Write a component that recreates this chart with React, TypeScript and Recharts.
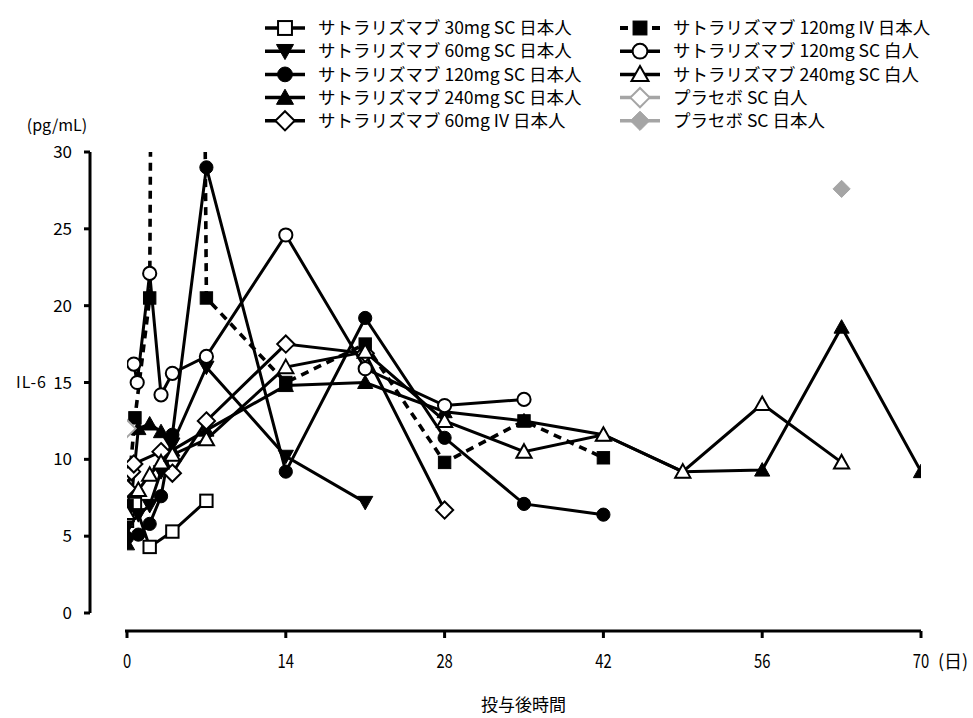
import React from 'react';
import { LineChart, Line, XAxis, YAxis, Legend, Label } from 'recharts';

const FONT = '"Noto Sans CJK JP", "Noto Sans", sans-serif';

const xTicks = [0, 14, 28, 42, 56, 70];
const yTicks = [0, 5, 10, 15, 20, 25, 30];

// IL-6 (pg/mL) by day after dosing
const days30ScJp = [0, 0.2, 0.7, 2, 4, 7];
const il6_30ScJp = [6.0, 7.2, 7.1, 4.3, 5.3, 7.3];

const days60ScJp = [0, 1, 2, 3, 4, 7, 14, 21];
const il6_60ScJp = [5.6, 6.4, 7.0, 9.2, 11.0, 16.0, 10.2, 7.2];

const days120ScJp = [0, 1, 2, 3, 4, 7, 14, 21, 28, 35, 42];
const il6_120ScJp = [4.9, 5.1, 5.8, 7.6, 11.6, 29.0, 9.2, 19.2, 11.4, 7.1, 6.4];

const days240ScJp = [0, 1, 2, 3, 4, 7, 14, 21, 28, 35, 42, 49, 56, 63, 70];
const il6_240ScJp = [4.5, 12.0, 12.3, 11.8, 10.6, 11.9, 14.8, 15.0, 13.1, 12.5, 11.6, 9.2, 9.3, 18.6, 9.2];

const days60IvJp = [0, 0.4, 0.6, 3, 4, 7, 14, 21, 28];
const il6_60IvJp = [8.1, 9.2, 9.7, 10.5, 9.1, 12.5, 17.5, 16.9, 6.7];

const days120IvJp = [0, 0.7, 2, 4, 7, 14, 21, 28, 35, 42];
const il6_120IvJp = [7.0, 12.7, 20.5, 300, 20.5, 15.0, 17.5, 9.8, 12.5, 10.1];

const days120ScW = [0.6, 0.9, 2, 3, 4, 7, 14, 21, 28, 35];
const il6_120ScW = [16.2, 15.0, 22.1, 14.2, 15.6, 16.7, 24.6, 15.9, 13.5, 13.9];

const days240ScW = [0, 1, 2, 3, 4, 7, 14, 21, 28, 35, 42, 49, 56, 63];
const il6_240ScW = [6.5, 8.0, 9.0, 9.8, 10.3, 11.3, 16.0, 17.0, 12.5, 10.5, 11.6, 9.2, 13.6, 9.8];

const daysPlaW = [0];
const il6_PlaW = [12.0];

const daysPlaJp = [63];
const il6_PlaJp = [27.6];

type Shape = 'square' | 'triDown' | 'circle' | 'triUp' | 'diamond';

interface SeriesDef {
  name: string;
  days: number[];
  vals: number[];
  shape: Shape;
  filled: boolean;
  color: string;
  dashed?: boolean;
}

const BLACK = '#000000';
const GRAY = '#a5a5a5';

const seriesDefs: SeriesDef[] = [
  { name: 'サトラリズマブ 30mg SC 日本人', days: days30ScJp, vals: il6_30ScJp, shape: 'square', filled: false, color: BLACK },
  { name: 'サトラリズマブ 60mg SC 日本人', days: days60ScJp, vals: il6_60ScJp, shape: 'triDown', filled: true, color: BLACK },
  { name: 'サトラリズマブ 120mg SC 日本人', days: days120ScJp, vals: il6_120ScJp, shape: 'circle', filled: true, color: BLACK },
  { name: 'サトラリズマブ 240mg SC 日本人', days: days240ScJp, vals: il6_240ScJp, shape: 'triUp', filled: true, color: BLACK },
  { name: 'サトラリズマブ 60mg IV 日本人', days: days60IvJp, vals: il6_60IvJp, shape: 'diamond', filled: false, color: BLACK },
  { name: 'サトラリズマブ 120mg IV 日本人', days: days120IvJp, vals: il6_120IvJp, shape: 'square', filled: true, color: BLACK, dashed: true },
  { name: 'サトラリズマブ 120mg SC 白人', days: days120ScW, vals: il6_120ScW, shape: 'circle', filled: false, color: BLACK },
  { name: 'サトラリズマブ 240mg SC 白人', days: days240ScW, vals: il6_240ScW, shape: 'triUp', filled: false, color: BLACK },
  { name: 'プラセボ SC 白人', days: daysPlaW, vals: il6_PlaW, shape: 'diamond', filled: false, color: GRAY },
  { name: 'プラセボ SC 日本人', days: daysPlaJp, vals: il6_PlaJp, shape: 'diamond', filled: true, color: GRAY },
];

const toData = (days: number[], vals: number[]) => days.map((d, i) => ({ day: d, il6: vals[i] }));

function marker(shape: Shape, filled: boolean, color: string, cx: number, cy: number, s: number, key?: string) {
  const fill = filled ? color : '#ffffff';
  const sw = filled ? 1 : 2;
  if (shape === 'square') {
    const h = 6.2 * s;
    return <rect key={key} x={cx - h} y={cy - h} width={2 * h} height={2 * h} fill={fill} stroke={color} strokeWidth={sw} />;
  }
  if (shape === 'circle') {
    return <circle key={key} cx={cx} cy={cy} r={6.6 * s} fill={fill} stroke={color} strokeWidth={sw} />;
  }
  if (shape === 'triUp') {
    const w = 7.6 * s;
    const pts = `${cx},${cy - 7.5 * s} ${cx + w},${cy + 6 * s} ${cx - w},${cy + 6 * s}`;
    return <polygon key={key} points={pts} fill={fill} stroke={color} strokeWidth={sw} strokeLinejoin="miter" />;
  }
  if (shape === 'triDown') {
    const w = 7.6 * s;
    const pts = `${cx - w},${cy - 6 * s} ${cx + w},${cy - 6 * s} ${cx},${cy + 7.5 * s}`;
    return <polygon key={key} points={pts} fill={fill} stroke={color} strokeWidth={sw} />;
  }
  const r = 8.6 * s;
  const pts = `${cx},${cy - r} ${cx + r},${cy} ${cx},${cy + r} ${cx - r},${cy}`;
  return <polygon key={key} points={pts} fill={fill} stroke={color} strokeWidth={sw} />;
}

const makeDot = (def: SeriesDef) => (props: any) => {
  const { cx, cy, payload, index } = props;
  const k = `${def.name}-${index}`;
  if (cx == null || cy == null || payload == null || payload.il6 > 30) return <g key={k} />;
  return marker(def.shape, def.filled, def.color, cx, cy, 1, k);
};

const LegendBox = () => (
  <svg width={973} height={140} style={{ display: 'block' }}>
    {seriesDefs.map((s, i) => {
      const col = i < 5 ? 0 : 1;
      const row = i % 5;
      const x0 = col === 0 ? 265 : 620;
      const y = 28 + row * 23.2;
      return (
        <g key={s.name}>
          {s.dashed ? (
            <>
              <line x1={x0} x2={x0 + 8} y1={y} y2={y} stroke={s.color} strokeWidth={4} />
              <line x1={x0 + 32} x2={x0 + 40} y1={y} y2={y} stroke={s.color} strokeWidth={4} />
            </>
          ) : (
            <line x1={x0} x2={x0 + 40} y1={y} y2={y} stroke={s.color} strokeWidth={3.5} />
          )}
          {marker(s.shape, s.filled, s.color, x0 + 20, y, 1.12)}
          <text x={x0 + 53} y={y} dy="0.35em" fontSize={17.5} fontFamily={FONT} fill="#000">
            {s.name}
          </text>
        </g>
      );
    })}
  </svg>
);

const XTick = (props: any) => {
  const { x, y, payload } = props;
  return (
    <g transform={`translate(${x},${y})`}>
      <text x={0} y={0} dy={26} textAnchor="middle" fontSize={19} fontFamily={FONT} fill="#000" transform="scale(0.78,1)">
        {payload.value}
      </text>
      {payload.value === 70 && (
        <text x={17} y={0} dy={26} textAnchor="start" fontSize={18} fontFamily={FONT} fill="#000">
          (日)
        </text>
      )}
    </g>
  );
};

export default function App() {
  return (
    <div style={{ position: 'absolute', left: 0, top: 0, width: 973, height: 718, background: '#fff' }}>
      <LineChart width={973} height={718} margin={{ top: 143, right: 52, bottom: 0, left: 8 }}>
        <XAxis
          type="number"
          dataKey="day"
          domain={[0, 70]}
          ticks={xTicks}
          padding={{ left: 37, right: 0 }}
          height={87}
          axisLine={{ stroke: '#000', strokeWidth: 3, strokeDasharray: '0 35 820 100' }}
          tickLine={{ stroke: '#000', strokeWidth: 3 }}
          tickSize={7}
          tickMargin={4}
          tick={<XTick />}
          allowDataOverflow
        >
          <Label value="投与後時間" position="insideBottom" offset={7} dx={18} fontSize={17} fontFamily={FONT} fill="#000" />
        </XAxis>
        <YAxis
          type="number"
          domain={[0, 30]}
          ticks={yTicks}
          padding={{ top: 9, bottom: 18 }}
          width={82}
          allowDataOverflow
          axisLine={{ stroke: '#000', strokeWidth: 3, strokeDasharray: '0 9 461 1000' }}
          tickLine={{ stroke: '#000', strokeWidth: 3 }}
          tickSize={6}
          tickMargin={12}
          tick={{ fontSize: 17, fontFamily: FONT, fill: '#000' }}
        >
          <Label value="IL-6" position="insideLeft" offset={8} dy={-5} fontSize={16} fontFamily={FONT} fill="#000" letterSpacing={1} />
          <Label value="(pg/mL)" position="top" offset={12} dx={8} fontSize={16} fontFamily={FONT} fill="#000" />
        </YAxis>
        <Legend
          layout="vertical"
          align="center"
          verticalAlign="middle"
          wrapperStyle={{ position: 'absolute', left: 0, top: 0, width: 973, height: 140 }}
          content={() => <LegendBox />}
        />
        {seriesDefs.map((s) => (
          <Line
            key={s.name}
            name={s.name}
            data={toData(s.days, s.vals)}
            dataKey="il6"
            type="linear"
            stroke={s.color}
            strokeWidth={s.dashed ? 3.6 : 3}
            strokeDasharray={s.dashed ? '8 6' : undefined}
            dot={makeDot(s)}
            activeDot={false}
            isAnimationActive={false}
          />
        ))}
      </LineChart>
    </div>
  );
}
